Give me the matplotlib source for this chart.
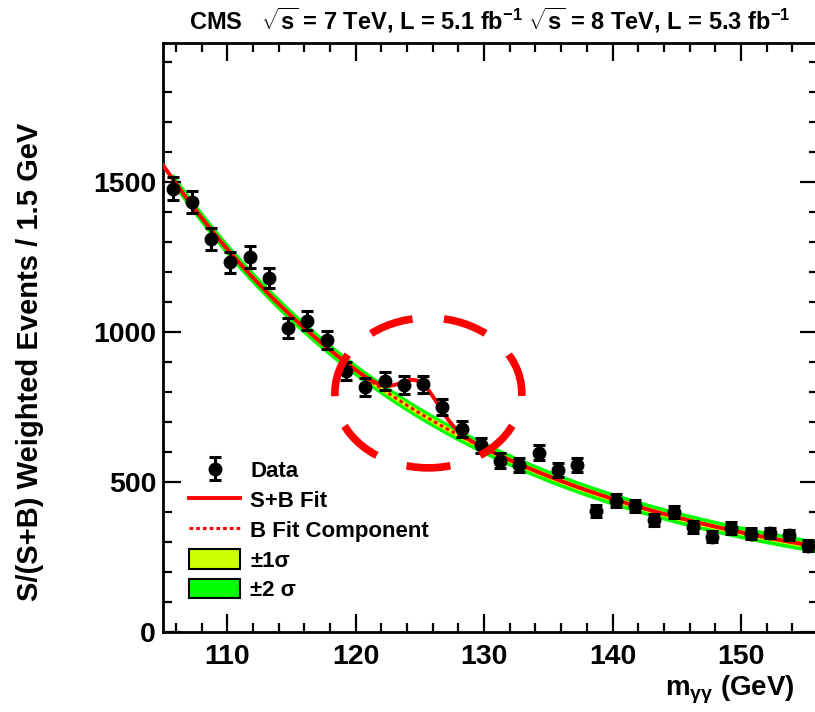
import numpy as np
import matplotlib
matplotlib.use("Agg")
import matplotlib.pyplot as plt
from matplotlib.patches import Ellipse, Rectangle
from matplotlib.lines import Line2D

# ---------------- data ----------------
mass = [105.75, 107.25, 108.75, 110.25, 111.75, 113.25, 114.75, 116.25, 117.75,
        119.25, 120.75, 122.25, 123.75, 125.25, 126.75, 128.25, 129.75, 131.25,
        132.75, 134.25, 135.75, 137.25, 138.75, 140.25, 141.75, 143.25, 144.75,
        146.25, 147.75, 149.25, 150.75, 152.25, 153.75, 155.25]
events = [1478, 1433, 1310, 1233, 1250, 1180, 1013, 1038, 973, 870, 817, 837,
          823, 825, 750, 677, 622, 571, 557, 597, 540, 557, 403, 438, 420, 373,
          400, 350, 317, 347, 327, 330, 323, 288]
errors = [38, 38, 36, 35, 36, 34, 32, 33, 31, 30, 29, 29, 29, 29, 27, 26, 25,
          24, 24, 25, 23, 24, 20, 21, 21, 19, 20, 19, 18, 19, 18, 18, 18, 17]

# background fit: exp(p0 + p1 t + p2 t^2 + p3 t^3), t = m - 105
bkg_params = [7.350, -0.04018, 1.0007e-4, 6.73e-7]
bkg_ref = 105.0
# signal: gaussian
sig_mass, sig_width, sig_amp = 125.0, 1.45, 104.0
band1, band2 = 9.0, 21.0

x_ticks = [110, 120, 130, 140, 150]
y_ticks = [0, 500, 1000, 1500]
xlim = (105, 156)
ylim = (0, 1963)

title = r"CMS   $\sqrt{s}$ = 7 TeV, L = 5.1 fb$^{-1}$ $\sqrt{s}$ = 8 TeV, L = 5.3 fb$^{-1}$"
xlabel = r"m$_{\gamma\gamma}$ (GeV)"
ylabel = "S/(S+B) Weighted Events / 1.5 GeV"

# ---------------- style ----------------
FONT = ["Liberation Sans", "DejaVu Sans"]
plt.rcParams["font.family"] = FONT
plt.rcParams["font.weight"] = "bold"
plt.rcParams["mathtext.fontset"] = "custom"
plt.rcParams["mathtext.rm"] = "Liberation Sans:bold"
plt.rcParams["mathtext.it"] = "Liberation Sans:bold"
plt.rcParams["mathtext.bf"] = "Liberation Sans:bold"

W, H = 815, 712
fig = plt.figure(figsize=(W / 100, H / 100), dpi=100)
ax = fig.add_axes([163 / W, (H - 632) / H, (818 - 163) / W, (632 - 43) / H])

def bkg(m):
    t = np.asarray(m) - bkg_ref
    p0, p1, p2, p3 = bkg_params
    return np.exp(p0 + p1 * t + p2 * t ** 2 + p3 * t ** 3)

def sig(m):
    return sig_amp * np.exp(-0.5 * ((np.asarray(m) - sig_mass) / sig_width) ** 2)

mf = np.linspace(xlim[0], xlim[1], 800)
mb = np.linspace(mass[0], xlim[1], 800)
green = "#00FF00"
yellow = "#CCFF00"
red = "#FF0000"

ax.fill_between(mb, bkg(mb) - band2, bkg(mb) + band2, color=green, lw=0, zorder=1)
ax.fill_between(mb, bkg(mb) - band1, bkg(mb) + band1, color=yellow, lw=0, zorder=2)
ax.plot(mf, bkg(mf), color=red, lw=2.2, ls=(0, (1.2, 1.0)), zorder=3)
ax.plot(mf, bkg(mf) + sig(mf), color=red, lw=2.8, zorder=4)

eb = ax.errorbar(mass, events, yerr=errors, fmt="o", color="black", ms=9,
                 elinewidth=2.2, capsize=4.5, capthick=2.2, zorder=6)

ell = Ellipse((125.66, 797), width=14.55, height=500, fill=False,
              edgecolor=red, lw=5.5, ls=(2.9, (5.8, 4.13)), zorder=7)
ax.add_patch(ell)

ax.set_xlim(*xlim)
ax.set_ylim(*ylim)
ax.set_xticks(x_ticks)
ax.set_yticks(y_ticks)
ax.set_xticks(np.arange(106, 156, 2), minor=True)
ax.set_yticks(np.arange(0, 1964, 100), minor=True)
ax.tick_params(which="both", direction="in", top=True, right=True, width=1.6,
               labelsize=20.5, colors="black")
ax.tick_params(which="major", length=13)
ax.tick_params(which="minor", length=6.5)
ax.tick_params(axis="x", pad=9)
ax.tick_params(axis="y", pad=5)
for s in ax.spines.values():
    s.set_linewidth(2.0)

fig.text(490 / W, 1 - 20 / H, title, ha="center", va="center", fontsize=17)
fig.text(795 / W, 1 - 690 / H, xlabel, ha="right", va="center", fontsize=20)
fig.text(30 / W, 1 - 362 / H, ylabel, ha="center", va="center", rotation=90,
         fontsize=21)

handles = [eb,
           Line2D([], [], color=red, lw=2.8),
           Line2D([], [], color=red, lw=2.2, ls=(0, (1.2, 1.0))),
           Rectangle((0, 0), 1, 1, facecolor=yellow, edgecolor="black", lw=1.5),
           Rectangle((0, 0), 1, 1, facecolor=green, edgecolor="black", lw=1.5)]
labels = ["Data", "S+B Fit", "B Fit Component", "\u00b11\u03c3", "\u00b12 \u03c3"]
leg = ax.legend(handles, labels, loc="upper left",
                bbox_to_anchor=((189 - 163) / 655, (632 - 460) / 589),
                frameon=False, fontsize=16, handlelength=2.3,
                handleheight=0.95, handletextpad=0.45, labelspacing=0.34,
                borderpad=0, borderaxespad=0)

fig.savefig("out.png", dpi=100)
